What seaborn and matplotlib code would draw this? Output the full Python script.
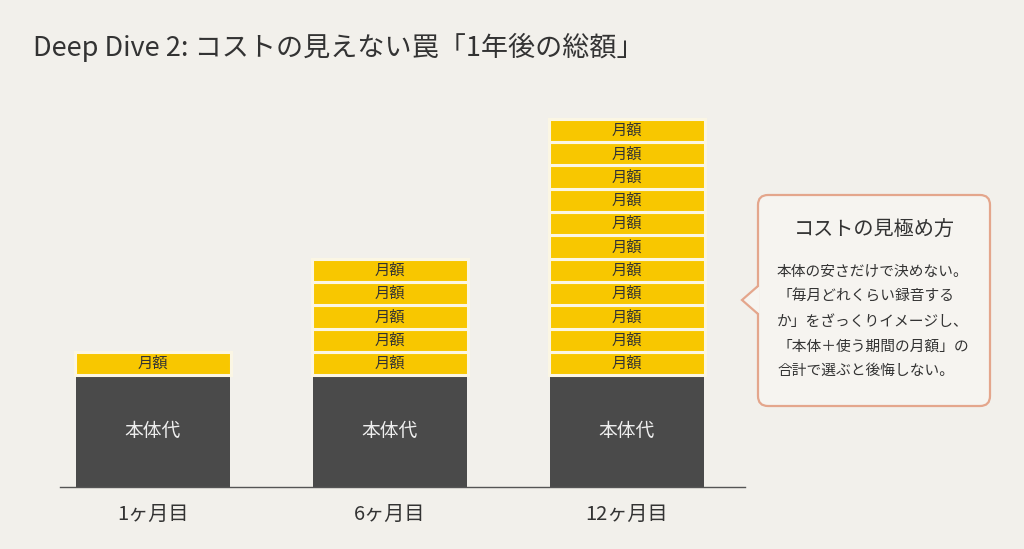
import matplotlib
matplotlib.use("Agg")
import matplotlib.pyplot as plt
import seaborn as sns
from matplotlib.patches import FancyBboxPatch, Polygon
from matplotlib.lines import Line2D

# ---- data ----
categories = ["1ヶ月目", "6ヶ月目", "12ヶ月目"]
base_cost = [4.8, 4.8, 4.8]          # 本体代 (in units of one month's fee)
monthly_counts = [1, 5, 11]          # number of 月額 blocks stacked
monthly_fee = 1.0
base_label = "本体代"
fee_label = "月額"
title = "Deep Dive 2: コストの見えない罠「1年後の総額」"
callout_title = "コストの見極め方"
callout_lines = [
    "本体の安さだけで決めない。",
    "「毎月どれくらい録音する",
    "か」をざっくりイメージし、",
    "「本体＋使う期間の月額」の",
    "合計で選ぶと後悔しない。",
]

# ---- style ----
BG = "#f2f0eb"
DARK = "#4a4a4a"
YELLOW = "#f8c700"
GAP = "#fbf6e4"
TEXT = "#333333"

sns.set_theme(style="white")
plt.rcParams["font.family"] = ["Noto Sans CJK JP", "DejaVu Sans"]

W, H = 1024, 549
fig = plt.figure(figsize=(W / 100, H / 100), dpi=100)
fig.patch.set_facecolor(BG)

# main axes (pixel box: x 60..745, y 100..487)
ax = fig.add_axes([60 / W, (H - 487) / H, (745 - 60) / W, (487 - 100) / H])
ax.set_facecolor("none")

bar_w = 0.65
sns.barplot(x=categories, y=base_cost, color=DARK, saturation=1, width=bar_w,
            errorbar=None, ax=ax, zorder=2, linewidth=0, edgecolor="none")

for i, (b, n) in enumerate(zip(base_cost, monthly_counts)):
    ax.text(i, b / 2, base_label, ha="center", va="center", color="#eeeeee",
            fontsize=13.5, zorder=4)
    for k in range(n):
        bottom = b + k * monthly_fee
        ax.bar(i, monthly_fee, bottom=bottom, width=bar_w + 0.008, color=YELLOW,
               edgecolor=GAP, linewidth=2.2, zorder=3)
        ax.text(i, bottom + monthly_fee / 2, fee_label, ha="center", va="center",
                color=TEXT, fontsize=11, zorder=4)

ax.set_xlim(-0.392, 2.498)
ax.set_ylim(0, 387 / 23.3)
ax.set_yticks([])
ax.set_xlabel("")
ax.set_ylabel("")
for s in ["top", "right", "left"]:
    ax.spines[s].set_visible(False)
ax.spines["bottom"].set_color("#555555")
ax.spines["bottom"].set_linewidth(1.0)
ax.spines["bottom"].set_zorder(5)
ax.tick_params(axis="x", length=0, pad=12, labelsize=14.5, labelcolor=TEXT)

# overlay in pixel coordinates
ov = fig.add_axes([0, 0, 1, 1])
ov.set_xlim(0, W)
ov.set_ylim(H, 0)
ov.axis("off")
ov.patch.set_visible(False)

ov.text(33, 47, title, ha="left", va="center", fontsize=19.5, color=TEXT)

# callout
BORDER = "#e4a68c"
FILL = "#f6f4f0"
box = FancyBboxPatch((758, 195), 232, 211,
                     boxstyle="round,pad=0,rounding_size=10",
                     facecolor=FILL, edgecolor=BORDER, linewidth=1.6, zorder=2)
ov.add_patch(box)
tri = Polygon([(759.5, 286), (742, 300), (759.5, 314)], closed=True,
              facecolor=FILL, edgecolor="none", zorder=3)
ov.add_patch(tri)
ov.add_line(Line2D([758, 742, 758], [286, 300, 314], color=BORDER,
                   linewidth=1.6, zorder=4, solid_joinstyle="miter"))

ov.text(874, 230, callout_title, ha="center", va="center", fontsize=14.5,
        color=TEXT, fontweight="normal", zorder=5)
for j, line in enumerate(callout_lines):
    ov.text(777, 272 + j * 24.8, line, ha="left", va="center", fontsize=10.6,
            color=TEXT, zorder=5)

fig.savefig("out.png", dpi=100, facecolor=BG)
